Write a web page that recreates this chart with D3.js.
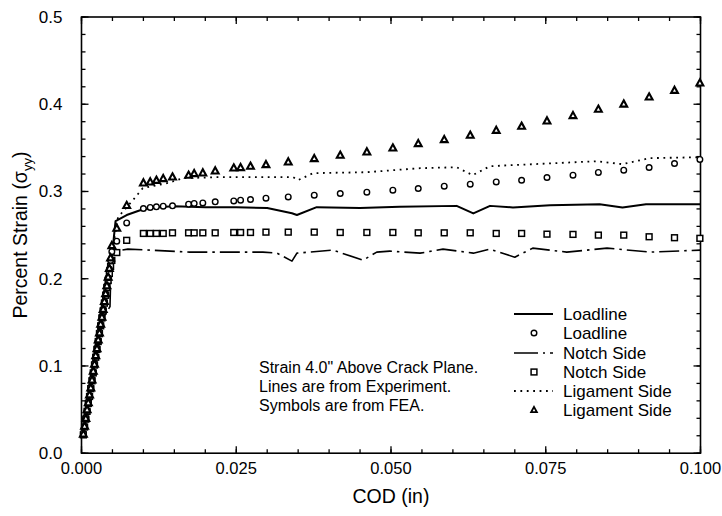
<!DOCTYPE html>
<html><head><meta charset="utf-8">
<script src="https://cdn.jsdelivr.net/npm/d3@7"></script>
<style>
html,body{margin:0;padding:0;background:#fff;}
text{font-family:"Liberation Sans",Arial,Helvetica,sans-serif;fill:#000;}
</style></head>
<body><svg id="c" width="722" height="516"></svg>
<script>
// ---- Experiment lines ----
const loadlineExpCod = [0.0003,0.0015,0.0030,0.0040,0.0049,0.0055,0.0073,0.0097,0.0119,0.0150,0.0200,0.0250,0.0300,0.0340,0.0348,0.0380,0.0450,0.0514,0.0606,0.0633,0.0660,0.0697,0.0757,0.0837,0.0874,0.0912,0.1000];
const loadlineExpVal = [0.022,0.075,0.142,0.188,0.225,0.266,0.273,0.279,0.282,0.283,0.282,0.282,0.281,0.275,0.273,0.282,0.281,0.2824,0.2835,0.2748,0.2835,0.2817,0.2843,0.2854,0.2817,0.2854,0.2854];

const notchExpCod = [0.0003,0.0020,0.0035,0.0046,0.0047,0.0050,0.0058,0.0075,0.0111,0.0175,0.0293,0.0316,0.0340,0.0348,0.0406,0.0455,0.0477,0.0498,0.0547,0.0584,0.0633,0.0660,0.0700,0.0729,0.0784,0.0849,0.0918,0.1000];
const notchExpVal = [0.020,0.095,0.155,0.168,0.195,0.222,0.232,0.2339,0.2328,0.2305,0.2305,0.2293,0.2202,0.2293,0.2328,0.2213,0.2305,0.2316,0.2293,0.2339,0.2293,0.2339,0.2247,0.2351,0.2305,0.2351,0.2305,0.2328];

const ligExpCod = [0.0003,0.0015,0.0030,0.0040,0.0049,0.0059,0.0083,0.0099,0.0138,0.0164,0.0219,0.0342,0.0350,0.0374,0.0461,0.0547,0.0606,0.0632,0.0660,0.0833,0.0874,0.0918,0.1000];
const ligExpVal = [0.022,0.076,0.143,0.189,0.228,0.2706,0.290,0.3038,0.3095,0.3152,0.3164,0.3164,0.313,0.321,0.3221,0.3267,0.3278,0.3187,0.3290,0.3347,0.3313,0.3382,0.3393];

// ---- FEA symbols ----
const feaCod = [0.0003,0.0005,0.0007,0.0009,0.0011,0.0013,0.0015,0.0017,0.0019,0.0021,0.0023,0.0025,0.0027,0.0029,0.0031,0.0033,0.0035,0.0037,0.0039,0.0041,0.0043,0.0045,0.0047,0.0049,
  0.0057,0.0073,
  0.0100,0.0111,0.0121,0.0132,0.0147,0.0173,0.0182,0.0196,0.0216,0.0246,0.0257,0.0273,0.0298,0.0334,0.0376,0.0418,0.0461,0.0503,0.0544,0.0586,0.0628,0.0670,0.0711,0.0752,0.0794,0.0835,0.0876,0.0917,0.0958,0.0999];
const loadlineFea = [0.023,0.031,0.041,0.049,0.059,0.066,0.076,0.085,0.093,0.103,0.111,0.121,0.129,0.139,0.147,0.157,0.165,0.174,0.183,0.192,0.201,0.211,0.221,0.231,
  0.243,0.264,
  0.2805,0.2817,0.2824,0.2832,0.2835,0.2855,0.2863,0.2869,0.2881,0.2892,0.2900,0.2908,0.2923,0.2938,0.2958,0.2977,0.2992,0.3015,0.3034,0.3061,0.3084,0.3110,0.3129,0.3160,0.3187,0.3218,0.3244,0.3275,0.3321,0.3367];
const notchFea = [0.021,0.030,0.039,0.048,0.057,0.065,0.074,0.083,0.092,0.101,0.110,0.119,0.128,0.137,0.146,0.155,0.163,0.172,0.181,0.190,0.198,0.206,0.214,0.221,
  0.230,0.244,
  0.2519,0.2519,0.2519,0.2519,0.2526,0.2526,0.2526,0.2526,0.2526,0.2530,0.2530,0.2530,0.2534,0.2534,0.2534,0.2530,0.2530,0.2530,0.2526,0.2526,0.2526,0.2519,0.2519,0.2511,0.2508,0.2500,0.2500,0.2481,0.2470,0.2463];
const ligFea = [0.022,0.031,0.040,0.050,0.058,0.067,0.075,0.084,0.094,0.102,0.112,0.120,0.130,0.138,0.148,0.156,0.165,0.174,0.183,0.192,0.202,0.212,0.224,0.238,
  0.258,0.284,
  0.3099,0.3110,0.3129,0.3149,0.3167,0.3187,0.3206,0.3213,0.3236,0.3270,0.3275,0.3290,0.3309,0.3339,0.3378,0.3416,0.3454,0.3499,0.3550,0.3596,0.3645,0.3702,0.3748,0.3809,0.3871,0.3943,0.4003,0.4084,0.4160,0.4244];

const xTickLabels = ["0.000","0.025","0.050","0.075","0.100"];
const yTickLabels = ["0.0","0.1","0.2","0.3","0.4","0.5"];
const legendLabels = ["Loadline","Loadline","Notch Side","Notch Side","Ligament Side","Ligament Side"];
const noteLines = ["Strain 4.0\" Above Crack Plane.","Lines are from Experiment.","Symbols are from FEA."];

// ---- drawing ----
const svg = d3.select("#c");
const L = 81.5, R = 700.5, T = 17, B = 453.2;
const x = d3.scaleLinear().domain([0,0.1]).range([L,R]);
const y = d3.scaleLinear().domain([0,0.5]).range([B,T]);

const g = svg.append("g");
g.append("rect").attr("x",L).attr("y",T).attr("width",R-L).attr("height",B-T)
  .attr("fill","none").attr("stroke","#000").attr("stroke-width",1.6);

const xMajor = d3.range(0,0.1001,0.025), xMinor = d3.range(0,0.1001,0.005);
const yMajor = d3.range(0,0.5001,0.1), yMinor = d3.range(0,0.5001,0.02);
function ticks(sel, scaleFn, vals, len, axis){
  vals.forEach(v=>{
    if(axis==="x"){
      const px = scaleFn(v);
      sel.append("line").attr("x1",px).attr("x2",px).attr("y1",B).attr("y2",B-len).attr("stroke","#000").attr("stroke-width",1.3);
      sel.append("line").attr("x1",px).attr("x2",px).attr("y1",T).attr("y2",T+len).attr("stroke","#000").attr("stroke-width",1.3);
    } else {
      const py = scaleFn(v);
      sel.append("line").attr("y1",py).attr("y2",py).attr("x1",L).attr("x2",L+len).attr("stroke","#000").attr("stroke-width",1.3);
      sel.append("line").attr("y1",py).attr("y2",py).attr("x1",R).attr("x2",R-len).attr("stroke","#000").attr("stroke-width",1.3);
    }
  });
}
ticks(g,x,xMinor,4,"x"); ticks(g,x,xMajor,7,"x");
ticks(g,y,yMinor,4,"y"); ticks(g,y,yMajor,7,"y");

xTickLabels.forEach(t=>{
  g.append("text").attr("x",x(+t)).attr("y",B+21).attr("text-anchor","middle")
   .attr("font-size",16.5).text(t);
});
yTickLabels.forEach(t=>{
  g.append("text").attr("x",L-19).attr("y",y(+t)+6).attr("text-anchor","end")
   .attr("font-size",17).text(t);
});

g.append("text").attr("x",(L+R)/2).attr("y",503).attr("text-anchor","middle")
 .attr("font-size",19.5).text("COD (in)");
const yl = g.append("text").attr("transform",`translate(27,${(T+B)/2}) rotate(-90)`)
 .attr("text-anchor","middle").attr("font-size",19.5);
yl.append("tspan").text("Percent Strain (\u03c3");
yl.append("tspan").attr("font-size",13).attr("dy",5).text("yy");
yl.append("tspan").attr("dy",-5).text(")");

// lines
const line = d3.line().x(d=>x(d[0])).y(d=>y(d[1]));
const styles = {
  solid:{w:2,dash:null},
  dashdot:{w:1.6,dash:"20,5,2.5,5"},
  dotted:{w:1.8,dash:"1.8,4.6"}
};
function drawLine(cods, vals, st){
  g.append("path").datum(cods.map((c,i)=>[c,vals[i]])).attr("d",line)
   .attr("fill","none").attr("stroke","#000").attr("stroke-width",st.w)
   .attr("stroke-dasharray",st.dash).attr("stroke-linejoin","round");
}
drawLine(loadlineExpCod, loadlineExpVal, styles.solid);
drawLine(notchExpCod, notchExpVal, styles.dashdot);
drawLine(ligExpCod, ligExpVal, styles.dotted);

// symbols
function circ(sel,cx,cy){ sel.append("circle").attr("cx",cx).attr("cy",cy).attr("r",2.8).attr("fill","#fff").attr("stroke","#000").attr("stroke-width",1.4); }
function sq(sel,cx,cy){ sel.append("rect").attr("x",cx-2.9).attr("y",cy-2.9).attr("width",5.8).attr("height",5.8).attr("fill","#fff").attr("stroke","#000").attr("stroke-width",1.5); }
function tri(sel,cx,cy,s){ s=s||1; sel.append("path").attr("d",`M${cx},${cy-3.6*s}L${cx+3.4*s},${cy+2.6*s}L${cx-3.4*s},${cy+2.6*s}Z`).attr("fill","#fff").attr("stroke","#000").attr("stroke-width",2.1*s).attr("stroke-linejoin","miter"); }
const sym = g.append("g");
feaCod.forEach((c,i)=>sq(sym,x(c),y(notchFea[i])));
feaCod.forEach((c,i)=>circ(sym,x(c),y(loadlineFea[i])));
feaCod.forEach((c,i)=>tri(sym,x(c),y(ligFea[i])));

// legend
const lg = g.append("g");
const rowY = [314,333,353,372,391,410];
const kinds = ["solid","circle","dashdot","square","dotted","triangle"];
kinds.forEach((k,i)=>{
  const ry = rowY[i];
  if(k==="solid"||k==="dashdot"||k==="dotted"){
    const st = k==="solid"?styles.solid:(k==="dashdot"?{w:1.6,dash:"24,5,2,5"}:styles.dotted);
    lg.append("line").attr("x1",514).attr("x2",553).attr("y1",ry).attr("y2",ry)
      .attr("stroke","#000").attr("stroke-width",st.w).attr("stroke-dasharray",st.dash);
  } else if(k==="circle"){ circ(lg,534,ry); }
  else if(k==="square"){ sq(lg,534,ry); }
  else { tri(lg,534,ry,0.85); }
  lg.append("text").attr("x",563).attr("y",ry+6).attr("font-size",17).text(legendLabels[i]);
});

// note
noteLines.forEach((t,i)=>{
  g.append("text").attr("x",259).attr("y",373+i*19).attr("font-size",16).text(t);
});
</script></body></html>
